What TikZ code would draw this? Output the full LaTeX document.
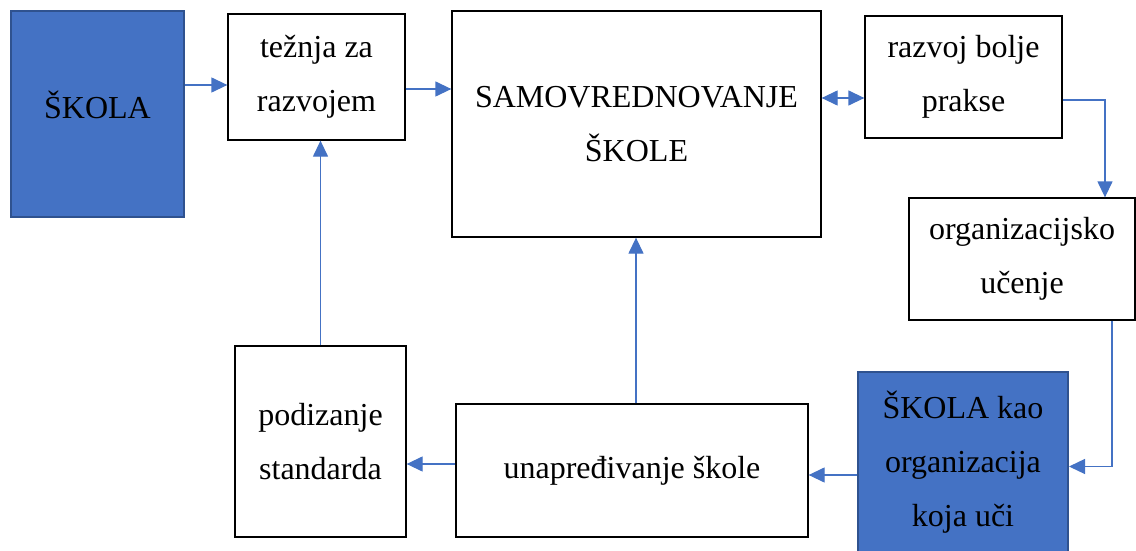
\documentclass[tikz,border=0pt]{standalone}
\usepackage{fontspec}
\setmainfont{Liberation Serif}
\usetikzlibrary{arrows.meta}
\definecolor{wblue}{HTML}{4472C4}
\definecolor{wborder}{HTML}{2F528F}
\begin{document}
\begin{tikzpicture}[x=1pt,y=-1pt,
  txt/.style={font=\fontsize{32}{54}\selectfont, align=center, inner sep=0pt},
  wbox/.style={txt, draw=black, line width=1.3pt, fill=white},
  bbox/.style={txt, draw=wborder, line width=2pt, fill=wblue},
  arr/.style={draw=wblue, line width=1.3pt, -{Triangle[length=16pt,width=15pt]}},
  darr/.style={draw=wblue, line width=1.3pt, {Triangle[length=16pt,width=15pt]}-{Triangle[length=16pt,width=15pt]}}]
\useasboundingbox (0,0) rectangle (1136,551);
\node[bbox, minimum width=173pt, minimum height=206pt] (skola) at (97.5,114) {\raisebox{18pt}{ŠKOLA}};
\node[wbox, minimum width=177pt, minimum height=126pt] (tez) at (316.5,77) {težnja za\\razvojem};
\node[wbox, minimum width=369pt, minimum height=226pt] (samo) at (636.5,124) {SAMOVREDNOVANJE\\ŠKOLE};
\node[wbox, minimum width=197pt, minimum height=122pt] (razvoj) at (963.5,77) {razvoj bolje\\prakse};
\node[wbox, minimum width=226pt, minimum height=122pt] (org) at (1022,259) {organizacijsko\\učenje};
\node[bbox, minimum width=210pt, minimum height=180pt] (kao) at (963,462) {ŠKOLA kao\\organizacija\\koja uči};
\node[wbox, minimum width=352pt, minimum height=133pt] (unap) at (632,470.5) {unapređivanje škole};
\node[wbox, minimum width=171pt, minimum height=191pt] (podiz) at (320.5,441.5) {\raisebox{13pt}{\begin{tabular}{@{}c@{}}podizanje\\standarda\end{tabular}}};
% connectors
\coordinate (a1) at ([yshift=29pt]skola.east);
\draw[arr] (a1) -- (a1 -| tez.west);
\coordinate (a2) at ([yshift=-12pt]tez.east);
\draw[arr] (a2) -- (a2 -| samo.west);
\coordinate (a3) at ([yshift=26pt]samo.east);
\draw[darr] (a3) -- (a3 -| razvoj.west);
\coordinate (a4) at ([yshift=-23pt]razvoj.east);
\coordinate (a4e) at ([xshift=83pt]org.north);
\draw[arr] (a4) -| (a4e);
\coordinate (a5) at ([xshift=90pt]org.south);
\coordinate (a5e) at ([yshift=-4.5pt]kao.east);
\draw[arr] (a5) |- (a5e);
\coordinate (a6) at ([yshift=-13pt]kao.west);
\draw[arr] (a6) -- (a6 -| unap.east);
\coordinate (a7) at ([yshift=6.5pt]unap.west);
\draw[arr] (a7) -- (a7 -| podiz.east);
\coordinate (a8) at ([xshift=4pt]unap.north);
\draw[arr] (a8) -- (a8 |- samo.south);
\coordinate (a9) at (podiz.north);
\draw[arr] (a9) -- (a9 |- tez.south);
\end{tikzpicture}
\end{document}
